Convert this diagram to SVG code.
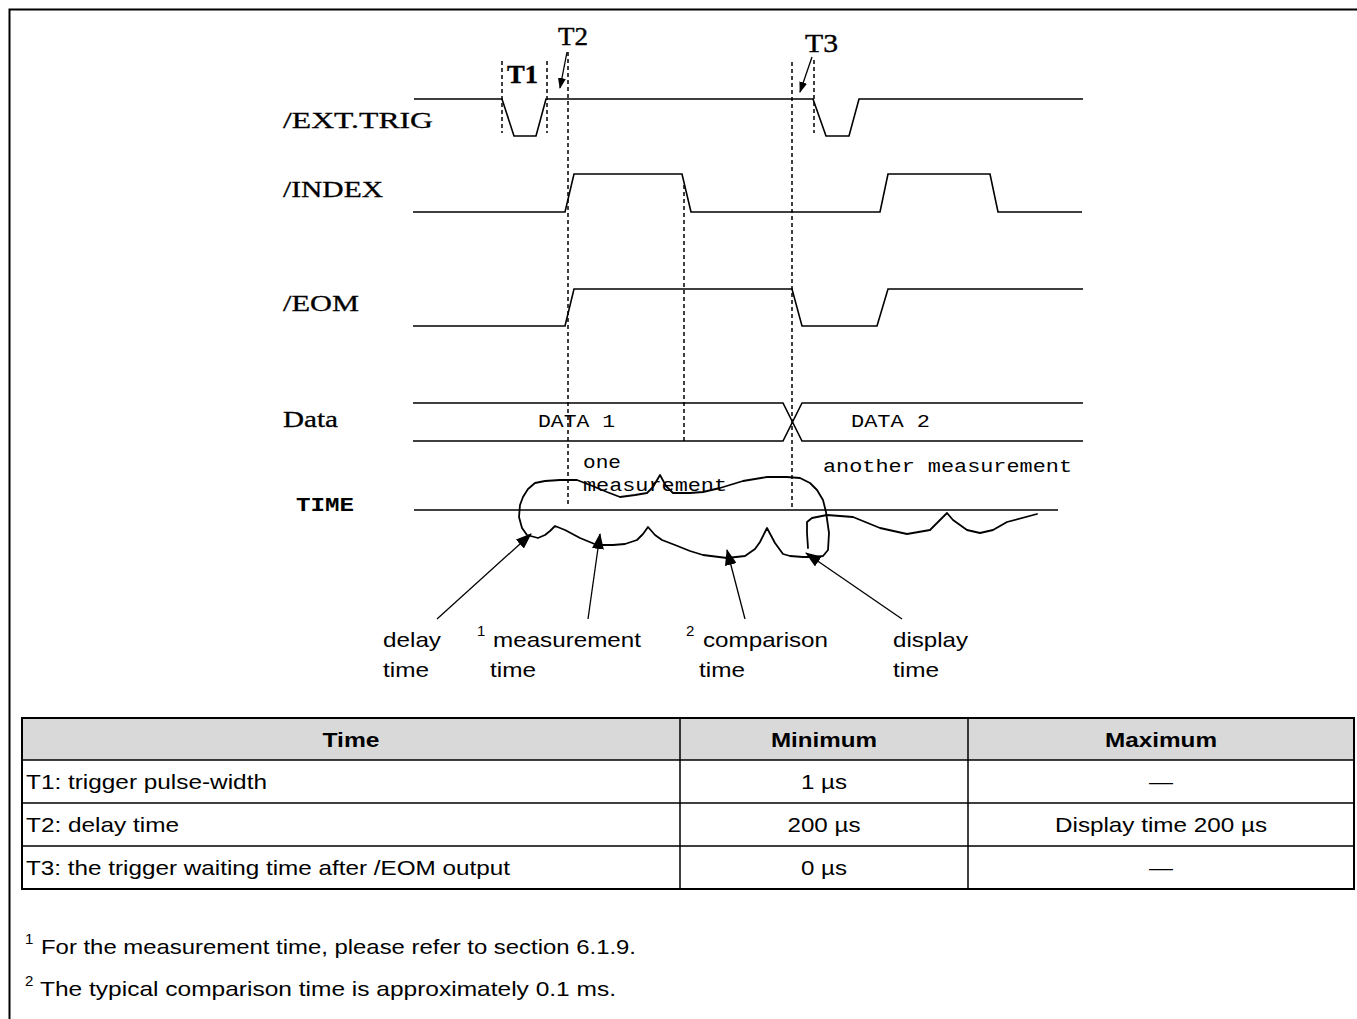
<svg xmlns="http://www.w3.org/2000/svg" width="1357" height="1019" viewBox="0 0 1357 1019">
<style>
.wave{fill:none;stroke:#000;stroke-width:1.6;stroke-linejoin:miter}
.dash{fill:none;stroke:#000;stroke-width:1.5;stroke-dasharray:4 3}
.sig{font-family:"Liberation Serif","DejaVu Serif",serif;font-size:24px;fill:#000;stroke:#000;stroke-width:0.3}
.tl{font-family:"Liberation Serif","DejaVu Serif",serif;font-size:26px;fill:#000;stroke:#000;stroke-width:0.4}
.mono{font-family:"Liberation Mono","DejaVu Sans Mono",monospace;font-size:18px;fill:#000}
.lab{font-family:"Liberation Sans",Arial,sans-serif;font-size:21px;fill:#000}
.sup{font-family:"Liberation Sans",Arial,sans-serif;font-size:15px;fill:#000}
.th{font-family:"Liberation Sans",Arial,sans-serif;font-size:21px;font-weight:bold;fill:#000;text-anchor:middle}
.td{font-family:"Liberation Sans",Arial,sans-serif;font-size:21px;fill:#000}
.tc{text-anchor:middle}
.conn{stroke:#000;stroke-width:1.3;fill:none}
.squig{fill:none;stroke:#000;stroke-width:1.8;stroke-linejoin:round;stroke-linecap:round}
.grid{stroke:#000;stroke-width:1.5;fill:none}
</style>
<defs>
<marker id="ah" markerUnits="userSpaceOnUse" markerWidth="16" markerHeight="12" refX="15" refY="6" orient="auto">
<path d="M0,0 L16,6 L0,12 z" fill="#000"/>
</marker>
<marker id="ahs" markerUnits="userSpaceOnUse" markerWidth="11" markerHeight="8" refX="10" refY="4" orient="auto">
<path d="M0,0 L11,4 L0,8 z" fill="#000"/>
</marker>
</defs>
<rect x="0" y="0" width="1357" height="1019" fill="#fff"/>
<path d="M9.5,1019 V9.5 H1357" fill="none" stroke="#000" stroke-width="2"/>

<g id="guides">
<line class="dash" x1="502" y1="61" x2="502" y2="133"/>
<line class="dash" x1="547" y1="61" x2="547" y2="133"/>
<line class="dash" x1="568" y1="52" x2="568" y2="505"/>
<line class="dash" x1="684" y1="185" x2="684" y2="443"/>
<line class="dash" x1="792" y1="62" x2="792" y2="507"/>
<line class="dash" x1="814" y1="60" x2="814" y2="133"/>
</g>

<g id="ext-trig">
<text class="sig" x="283" y="128" textLength="150" lengthAdjust="spacingAndGlyphs">/EXT.TRIG</text>
<path class="wave" d="M414,99 H502 L514,136 H536 L546,99 H813 L826,136 H849 L859,99 H1083"/>
</g>
<g id="index">
<text class="sig" x="283" y="197" textLength="100" lengthAdjust="spacingAndGlyphs">/INDEX</text>
<path class="wave" d="M413,212 H565 L574,174 H682 L691,212 H880 L888,174 H990 L998,212 H1082"/>
</g>
<g id="eom">
<text class="sig" x="283" y="311" textLength="76" lengthAdjust="spacingAndGlyphs">/EOM</text>
<path class="wave" d="M413,326 H565 L574,289 H792 L802,326 H877 L888,289 H1083"/>
</g>
<g id="data">
<text class="sig" x="283" y="427" textLength="55" lengthAdjust="spacingAndGlyphs">Data</text>
<path class="wave" d="M413,403 H783 L802,441 H1083 M413,441 H783 L802,403 H1083"/>
<text class="mono" x="538" y="427" textLength="77" lengthAdjust="spacingAndGlyphs">DATA 1</text>
<text class="mono" x="851" y="427" textLength="79" lengthAdjust="spacingAndGlyphs">DATA 2</text>
</g>
<g id="time-axis">
<text x="296" y="511" font-family="Liberation Mono,DejaVu Sans Mono,monospace" font-size="21" font-weight="bold" textLength="58" lengthAdjust="spacingAndGlyphs">TIME</text>
<path class="wave" d="M414,510 H1058"/>
<text class="mono" x="583" y="468" textLength="38" lengthAdjust="spacingAndGlyphs">one</text>
<text class="mono" x="583" y="491" textLength="144" lengthAdjust="spacingAndGlyphs">measurement</text>
<text class="mono" x="823" y="472" textLength="249" lengthAdjust="spacingAndGlyphs">another measurement</text>
</g>

<g id="timing-marks">
<text class="tl" x="507" y="83" font-weight="bold" textLength="31" lengthAdjust="spacingAndGlyphs">T1</text>
<text class="tl" x="558" y="45" textLength="30" lengthAdjust="spacingAndGlyphs">T2</text>
<text class="tl" x="805" y="52" textLength="33" lengthAdjust="spacingAndGlyphs">T3</text>
</g>

<g id="phases">
<path class="squig" d="M545,481 L560,480 L577,480 L590,485 L607,492 L620,497 L635,495 L647,493 L653,487 L660,475 L666,486 L673,493 L690,493 L703,492 L720,488 L743,481 L767,477 L787,477 L800,478 L810,483 L817,490 L823,500 L826,512 L829,533 L828,550 L823,556 L815,557 L803,557 L790,556 L783,554 L775,543 L767,528 L760,542 L755,549 L745,556 L727,558 L703,555 L690,551 L675,545 L662,540 L655,535 L648,527 L643,534 L637,540 L625,544 L613,545 L597,545 L580,538 L565,530 L555,526 L550,531 L545,535 L538,538 L527,535 L522,528 L519,517 L520,505 L523,497 L528,489 L535,483 Z"/>
<path class="squig" d="M808,548 L807,533 L807,522 L812,518 L827,515 L853,517 L880,528 L907,534 L930,530 L938,522 L947,513 L953,520 L967,530 L980,533 L993,530 L1007,522 L1037,514"/>
</g>

<g id="connectors">
<line class="conn" x1="567" y1="52" x2="560" y2="88" marker-end="url(#ahs)"/>
<line class="conn" x1="812" y1="57" x2="800" y2="92" marker-end="url(#ahs)"/>
<line class="conn" x1="437" y1="619" x2="531" y2="534" marker-end="url(#ah)"/>
<line class="conn" x1="588" y1="619" x2="600" y2="534" marker-end="url(#ah)"/>
<line class="conn" x1="745" y1="619" x2="727" y2="550" marker-end="url(#ah)"/>
<line class="conn" x1="902" y1="619" x2="806" y2="553" marker-end="url(#ah)"/>
</g>

<g id="label-delay">
<text class="lab" x="383" y="647" textLength="58" lengthAdjust="spacingAndGlyphs">delay</text>
<text class="lab" x="383" y="677" textLength="46" lengthAdjust="spacingAndGlyphs">time</text>
</g>
<g id="label-measurement">
<text class="sup" x="477" y="636">1</text>
<text class="lab" x="493" y="647" textLength="148" lengthAdjust="spacingAndGlyphs">measurement</text>
<text class="lab" x="490" y="677" textLength="46" lengthAdjust="spacingAndGlyphs">time</text>
</g>
<g id="label-comparison">
<text class="sup" x="686" y="636">2</text>
<text class="lab" x="703" y="647" textLength="125" lengthAdjust="spacingAndGlyphs">comparison</text>
<text class="lab" x="699" y="677" textLength="46" lengthAdjust="spacingAndGlyphs">time</text>
</g>
<g id="label-display">
<text class="lab" x="893" y="647" textLength="75" lengthAdjust="spacingAndGlyphs">display</text>
<text class="lab" x="893" y="677" textLength="46" lengthAdjust="spacingAndGlyphs">time</text>
</g>

<g id="table">
<rect x="22" y="718" width="1332" height="42" fill="#d9d9d9"/>
<rect x="22" y="718" width="1332" height="171" fill="none" stroke="#000" stroke-width="2"/>
<path class="grid" d="M22,760 H1354 M22,803 H1354 M22,846 H1354 M680,718 V889 M968,718 V889"/>
<text class="th" x="351" y="747" textLength="57" lengthAdjust="spacingAndGlyphs">Time</text>
<text class="th" x="824" y="747" textLength="106" lengthAdjust="spacingAndGlyphs">Minimum</text>
<text class="th" x="1161" y="747" textLength="112" lengthAdjust="spacingAndGlyphs">Maximum</text>
<text class="td" x="26" y="789" textLength="241" lengthAdjust="spacingAndGlyphs">T1: trigger pulse-width</text>
<text class="td tc" x="824" y="789" textLength="46" lengthAdjust="spacingAndGlyphs">1 µs</text>
<text class="td tc" x="1161" y="789" textLength="24" lengthAdjust="spacingAndGlyphs">—</text>
<text class="td" x="26" y="832" textLength="153" lengthAdjust="spacingAndGlyphs">T2: delay time</text>
<text class="td tc" x="824" y="832" textLength="73" lengthAdjust="spacingAndGlyphs">200 µs</text>
<text class="td tc" x="1161" y="832" textLength="212" lengthAdjust="spacingAndGlyphs">Display time 200 µs</text>
<text class="td" x="26" y="875" textLength="484" lengthAdjust="spacingAndGlyphs">T3: the trigger waiting time after /EOM output</text>
<text class="td tc" x="824" y="875" textLength="46" lengthAdjust="spacingAndGlyphs">0 µs</text>
<text class="td tc" x="1161" y="875" textLength="24" lengthAdjust="spacingAndGlyphs">—</text>
</g>

<g id="footnotes">
<text class="sup" x="25" y="944">1</text>
<text class="td" x="41" y="954" textLength="595" lengthAdjust="spacingAndGlyphs">For the measurement time, please refer to section 6.1.9.</text>
<text class="sup" x="25" y="986">2</text>
<text class="td" x="40" y="996" textLength="576" lengthAdjust="spacingAndGlyphs">The typical comparison time is approximately 0.1 ms.</text>
</g>
</svg>
